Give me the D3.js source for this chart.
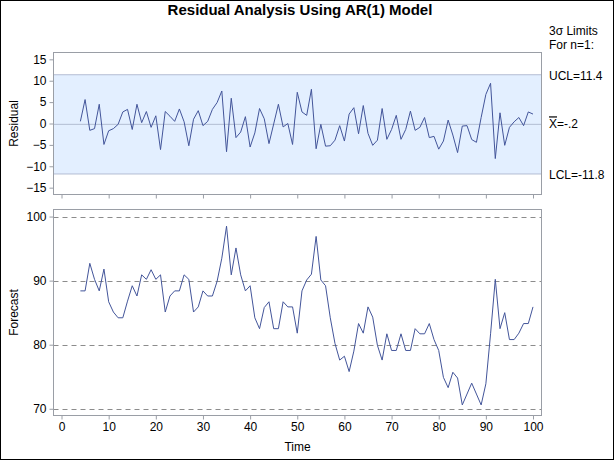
<!DOCTYPE html>
<html><head><meta charset="utf-8">
<script src="https://cdn.jsdelivr.net/npm/d3@7"></script>
<style>
body{margin:0;background:#fff;}
svg{display:block;font-family:"Liberation Sans",Arial,sans-serif;}
</style></head>
<body>
<script>
const time = [4,5,6,7,8,9,10,11,12,13,14,15,16,17,18,19,20,21,22,23,24,25,26,27,28,29,30,31,32,33,34,35,36,37,38,39,40,41,42,43,44,45,46,47,48,49,50,51,52,53,54,55,56,57,58,59,60,61,62,63,64,65,66,67,68,69,70,71,72,73,74,75,76,77,78,79,80,81,82,83,84,85,86,87,88,89,90,91,92,93,94,95,96,97,98,99,100];
const residual = [0.5,5.6,-1.6,-1.2,4.5,-4.9,-1.7,-1.2,-0.2,2.7,3.3,-1.4,4.5,0.2,2.8,-0.9,1.8,-6.1,2.8,1.7,0.5,3.4,0.4,-5.2,1.0,3.0,-0.5,0.5,3.3,4.9,7.6,-6.6,5.9,-3.3,-2.0,1.6,-5.5,-2.2,3.5,1.1,-4.7,-0.1,4.5,-0.8,0.0,-4.9,7.3,2.7,1.9,8.0,-5.9,-0.2,-5.3,-5.2,-3.9,-0.5,-4.1,2.2,3.7,-2.4,4.2,-2.3,-5.1,-3.9,3.5,-3.7,-1.4,1.9,-3.7,-1.4,2.9,-1.6,-0.9,1.4,-3.3,-3.0,-6.0,-4.1,0.8,-2.7,-6.8,-0.6,-0.5,-3.75,-4.4,1.4,6.8,9.4,-8.2,2.5,-5.1,-0.9,0.4,1.4,-0.5,2.7,2.2];
const forecast = [88.4,88.4,92.7,90.2,88.4,91.8,86.7,85.1,84.2,84.2,86.8,89.2,87.6,90.9,90.2,91.7,90.2,90.9,85.1,87.6,88.4,88.4,90.9,90.2,85.1,85.9,88.4,87.6,87.6,89.9,93.5,98.5,90.9,95.1,90.9,88.4,89.2,84.2,82.5,85.8,86.7,82.5,82.5,86.7,85.9,85.9,81.8,88.4,90.1,91.0,96.9,90.1,89.2,84.2,80.2,77.6,78.2,75.8,79.0,83.3,81.8,85.9,84.3,79.9,77.6,81.7,79.1,79.1,81.7,79.1,79.1,82.5,81.7,81.7,83.3,80.8,79.1,74.9,73.3,75.7,74.8,70.6,72.3,74.0,72.3,70.6,73.9,81.7,90.2,82.5,85.0,80.8,80.8,81.8,83.3,83.3,85.9];
const ucl = 11.4, center = -0.2, lcl = -11.8;
const xTicks = [0,10,20,30,40,50,60,70,80,90,100];
const resTicks = [-15,-10,-5,0,5,10,15];
const fcTicks = [70,80,90,100];
const titleText = "Residual Analysis Using AR(1) Model";

const W = 614, H = 460;
const svg = d3.select("body").append("svg").attr("width", W).attr("height", H);
svg.append("rect").attr("x",0.5).attr("y",0.5).attr("width",W-1).attr("height",H-1)
  .attr("fill","#fff").attr("stroke","#000");

const L = 53.5, R = 541.5;
const top1 = 52.5, bot1 = 194.5, top2 = 209.5, bot2 = 415.5;
const x = d3.scaleLinear().domain([-1.7, 101.8]).range([L, R]);
const yR = d3.scaleLinear().domain([-16.6, 16.6]).range([bot1, top1]);
const yF = d3.scaleLinear().domain([68.95, 101.1]).range([bot2, top2]);

const frameCol = "#9a9ea6", txtCol = "#000", lineCol = "#43559a";

svg.append("text").attr("x", 300).attr("y", 15).attr("text-anchor","middle")
  .attr("font-size",15).attr("font-weight","bold").text(titleText);

// top panel
const g1 = svg.append("g");
g1.append("rect").attr("x",L).attr("y",yR(ucl)).attr("width",R-L).attr("height",yR(lcl)-yR(ucl))
  .attr("fill","#e3efff");
[ucl, lcl].forEach(v => g1.append("line").attr("x1",L).attr("x2",R).attr("y1",yR(v)).attr("y2",yR(v))
  .attr("stroke","#b3bdd3").attr("stroke-width",1));
g1.append("line").attr("x1",L).attr("x2",R).attr("y1",yR(center)).attr("y2",yR(center))
  .attr("stroke","#b3bdd3");
g1.append("path").datum(time.map((t,i)=>[t,residual[i]]))
  .attr("fill","none").attr("stroke",lineCol).attr("stroke-width",1)
  .attr("d", d3.line().x(d=>x(d[0])).y(d=>yR(d[1])));
g1.append("rect").attr("x",L).attr("y",top1).attr("width",R-L).attr("height",bot1-top1)
  .attr("fill","none").attr("stroke",frameCol);

const axR = svg.append("g").attr("transform",`translate(${L},0)`)
  .call(d3.axisLeft(yR).tickValues(resTicks).tickSize(4).tickPadding(3));
const axRb = svg.append("g").attr("transform",`translate(0,${bot1})`)
  .call(d3.axisBottom(x).tickValues(xTicks).tickSize(4).tickFormat(""));

// bottom panel
const g2 = svg.append("g");
fcTicks.forEach(v => g2.append("line").attr("x1",L).attr("x2",R).attr("y1",Math.round(yF(v))+0.5).attr("y2",Math.round(yF(v))+0.5)
  .attr("stroke","#8c8c8c").attr("stroke-dasharray","5,4"));
g2.append("path").datum(time.map((t,i)=>[t,forecast[i]]))
  .attr("fill","none").attr("stroke",lineCol).attr("stroke-width",1)
  .attr("d", d3.line().x(d=>x(d[0])).y(d=>yF(d[1])));
g2.append("rect").attr("x",L).attr("y",top2).attr("width",R-L).attr("height",bot2-top2)
  .attr("fill","none").attr("stroke",frameCol);

const axF = svg.append("g").attr("transform",`translate(${L},0)`)
  .call(d3.axisLeft(yF).tickValues(fcTicks).tickSize(4).tickPadding(3));
const axX = svg.append("g").attr("transform",`translate(0,${bot2})`)
  .call(d3.axisBottom(x).tickValues(xTicks).tickSize(4).tickPadding(3));

[axR, axRb, axF, axX].forEach(a => {
  a.select(".domain").remove();
  a.selectAll(".tick line").attr("stroke",frameCol);
  a.selectAll(".tick text").attr("font-size",12).attr("fill",txtCol)
    .attr("font-family","'Liberation Sans',Arial,sans-serif");
});

svg.append("text").attr("transform",`translate(18,${(top1+bot1)/2}) rotate(-90)`)
  .attr("text-anchor","middle").attr("font-size",12).text("Residual");
svg.append("text").attr("transform",`translate(18,${(top2+bot2)/2}) rotate(-90)`)
  .attr("text-anchor","middle").attr("font-size",12).text("Forecast");
svg.append("text").attr("x",(L+R)/2).attr("y",451).attr("text-anchor","middle")
  .attr("font-size",12).text("Time");

// right-side limit labels
const lx = 549;
svg.append("text").attr("x",lx).attr("y",35).attr("font-size",12).text("3σ Limits");
svg.append("text").attr("x",lx).attr("y",49).attr("font-size",12).text("For n=1:");
svg.append("text").attr("x",lx).attr("y",yR(ucl)+5).attr("font-size",12).text("UCL=11.4");
const xb = svg.append("text").attr("x",lx).attr("y",yR(center)+4).attr("font-size",12);
xb.append("tspan").style("text-decoration","overline").text("X");
xb.append("tspan").text("=-.2");
svg.append("text").attr("x",lx).attr("y",yR(lcl)+5).attr("font-size",12).text("LCL=-11.8");
</script>
</body></html>
